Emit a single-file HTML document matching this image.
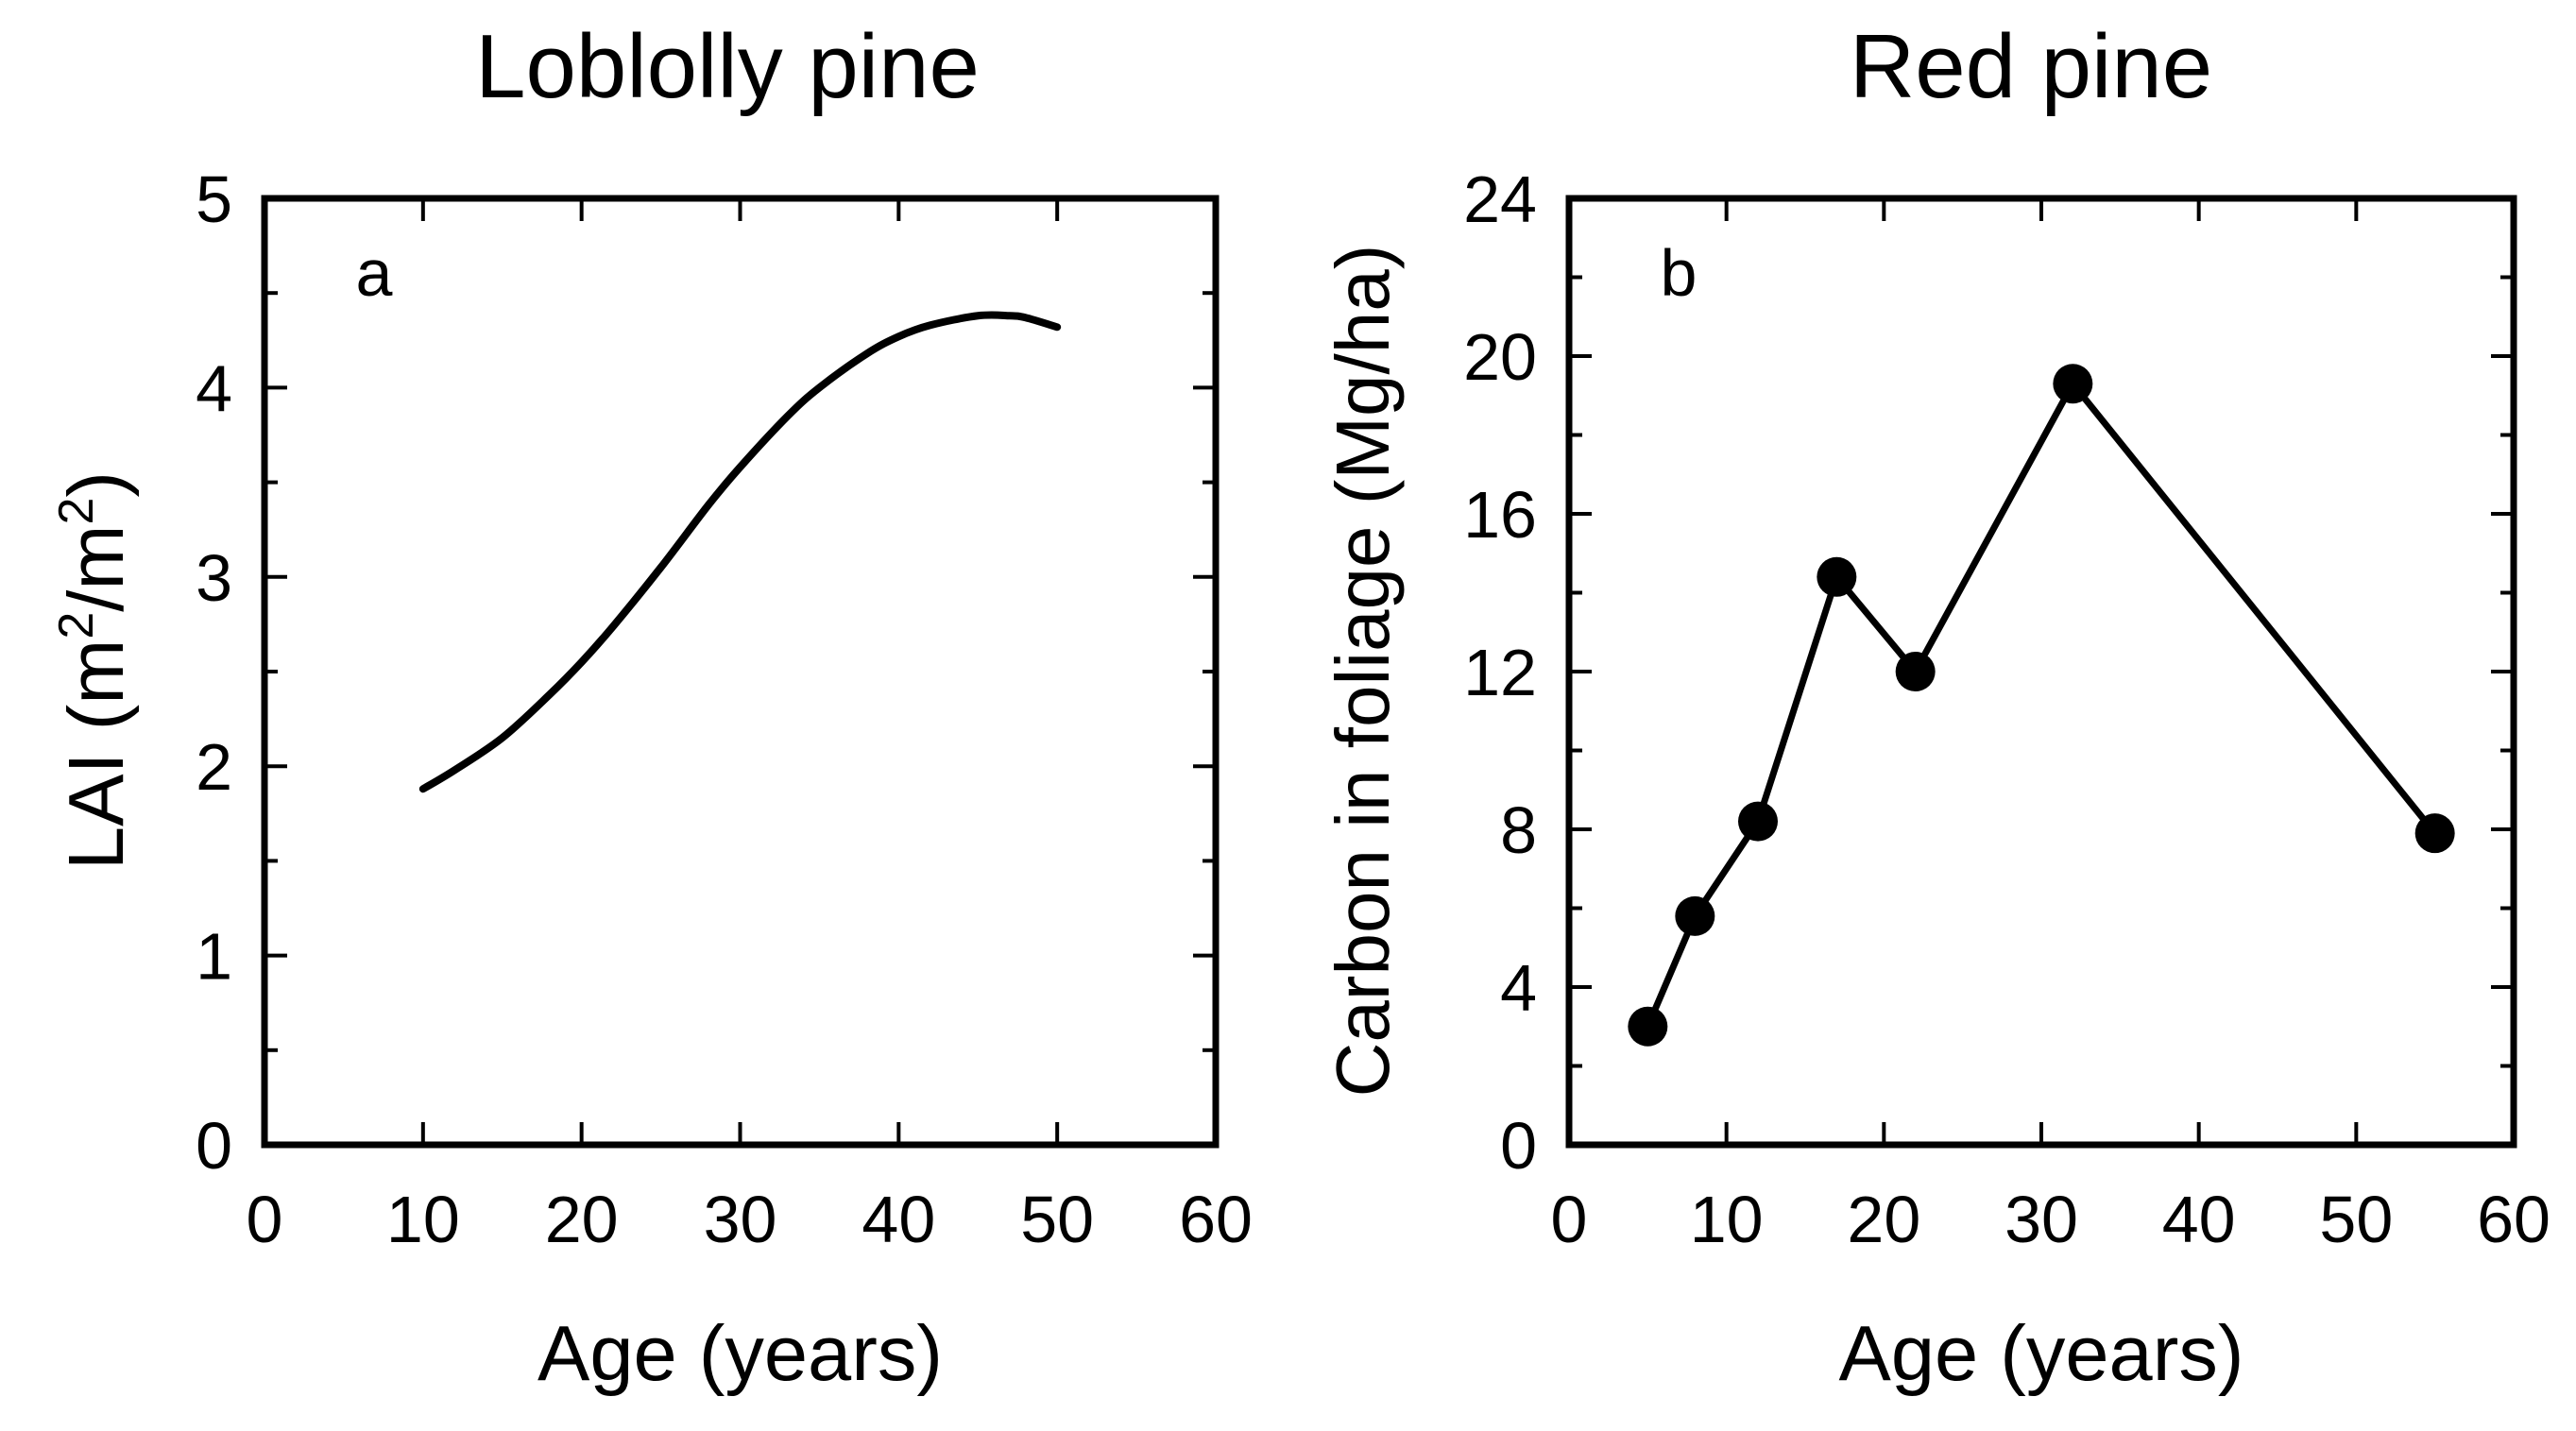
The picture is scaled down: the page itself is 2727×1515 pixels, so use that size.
<!DOCTYPE html>
<html><head><meta charset="utf-8"><style>
body{margin:0;background:#fff}
svg{display:block;font-family:"Liberation Sans",Arial,sans-serif}
</style></head><body>
<svg id="c" width="2727" height="1515" viewBox="0 0 2727 1515">
<text x="770" y="103" font-size="96" text-anchor="middle">Loblolly pine</text>
<text x="2150" y="103" font-size="96" text-anchor="middle">Red pine</text>
<g id="pa"></g>
<g id="pb"></g>
</svg>
<script>
const lobAge=[10,12,15,18,20,22,25,28,30,33,35,38,40,42,45,47,48,50];
const lobLAI=[1.88,1.98,2.15,2.38,2.55,2.74,3.05,3.38,3.58,3.85,4.0,4.18,4.27,4.33,4.38,4.38,4.37,4.32];
const redAge=[5,8,12,17,22,32,55];
const redC=[3,5.8,8.2,14.4,12,19.3,7.9];
const xTicks=[0,10,20,30,40,50,60];
const yTicksA=[0,1,2,3,4,5];
const yTicksB=[0,4,8,12,16,20,24];
const NS="http://www.w3.org/2000/svg";
function mk(p,t,a){const e=document.createElementNS(NS,t);for(const k in a)e.setAttribute(k,a[k]);p.appendChild(e);return e;}
function panel(g,L,R,T,B,ymax,yt,minorStep,letter){
  const sx=v=>L+(v/60)*(R-L), sy=v=>B-(v/ymax)*(B-T);
  const fr=mk(g,'rect',{x:L,y:T,width:R-L,height:B-T,fill:'none',stroke:'#000','stroke-width':7});
  
  
  xTicks.forEach(v=>{
    const x=sx(v);
    if(v>0&&v<60){mk(g,'line',{x1:x,x2:x,y1:B,y2:B-24,stroke:'#000','stroke-width':4});mk(g,'line',{x1:x,x2:x,y1:T,y2:T+24,stroke:'#000','stroke-width':4});}
    const t=mk(g,'text',{x:x,y:1315,'font-size':70,'text-anchor':'middle'});t.textContent=v;
    
    
  });
  for(let v=minorStep;v<ymax;v+=minorStep){
    const y=sy(v);const major=yt.includes(+v.toFixed(3));const len=major?24:14;
    mk(g,'line',{x1:L,x2:L+len,y1:y,y2:y,stroke:'#000','stroke-width':4});
    mk(g,'line',{x1:R,x2:R-len,y1:y,y2:y,stroke:'#000','stroke-width':4});
  }
  yt.forEach(v=>{
    const t=mk(g,'text',{x:L-34,y:sy(v)+25,'font-size':70,'text-anchor':'end'});t.textContent=v;
    
    
  });
  const lt=mk(g,'text',{x:L+116,y:313,'font-size':70,'text-anchor':'middle'});lt.textContent=letter;
  
  
  const xt=mk(g,'text',{x:(L+R)/2,y:1461,'font-size':83,'text-anchor':'middle'});xt.textContent='Age (years)';
  
  
  return {sx,sy};
}
function smooth(pts){
  let d='M'+pts[0][0]+','+pts[0][1];
  for(let i=0;i<pts.length-1;i++){
    const p0=pts[Math.max(0,i-1)],p1=pts[i],p2=pts[i+1],p3=pts[Math.min(pts.length-1,i+2)];
    const c1=[p1[0]+(p2[0]-p0[0])/6,p1[1]+(p2[1]-p0[1])/6];
    const c2=[p2[0]-(p3[0]-p1[0])/6,p2[1]-(p3[1]-p1[1])/6];
    d+=' C'+c1+' '+c2+' '+p2;
  }
  return d;
}
const ga=document.getElementById('pa');
const A=panel(ga,280,1287,210,1212,5,yTicksA,0.5,'a');
const yta=mk(ga,'text',{transform:'translate(130,710) rotate(-90)','font-size':83,'text-anchor':'middle'});
yta.innerHTML='LAI (m<tspan font-size="52" dy="-32">2</tspan><tspan dy="32">/m</tspan><tspan font-size="52" dy="-32">2</tspan><tspan dy="32">)</tspan>';


const pathA=mk(ga,'path',{d:smooth(lobAge.map((v,i)=>[A.sx(v),A.sy(lobLAI[i])])),fill:'none',stroke:'#000','stroke-width':8,'stroke-linecap':'round'});


const gb=document.getElementById('pb');
const Bp=panel(gb,1661,2661,210,1212,24,yTicksB,2,'b');
const ytb=mk(gb,'text',{transform:'translate(1470,710) rotate(-90)','font-size':80,'text-anchor':'middle'});
ytb.textContent='Carbon in foliage (Mg/ha)';


const lb=mk(gb,'polyline',{points:redAge.map((v,i)=>Bp.sx(v)+','+Bp.sy(redC[i])).join(' '),fill:'none',stroke:'#000','stroke-width':7,'stroke-linejoin':'round'});


redAge.forEach((v,i)=>{
  const c=mk(gb,'circle',{cx:Bp.sx(v),cy:Bp.sy(redC[i]),r:21,fill:'#000'});
  
  
});
</script>
</body></html>
